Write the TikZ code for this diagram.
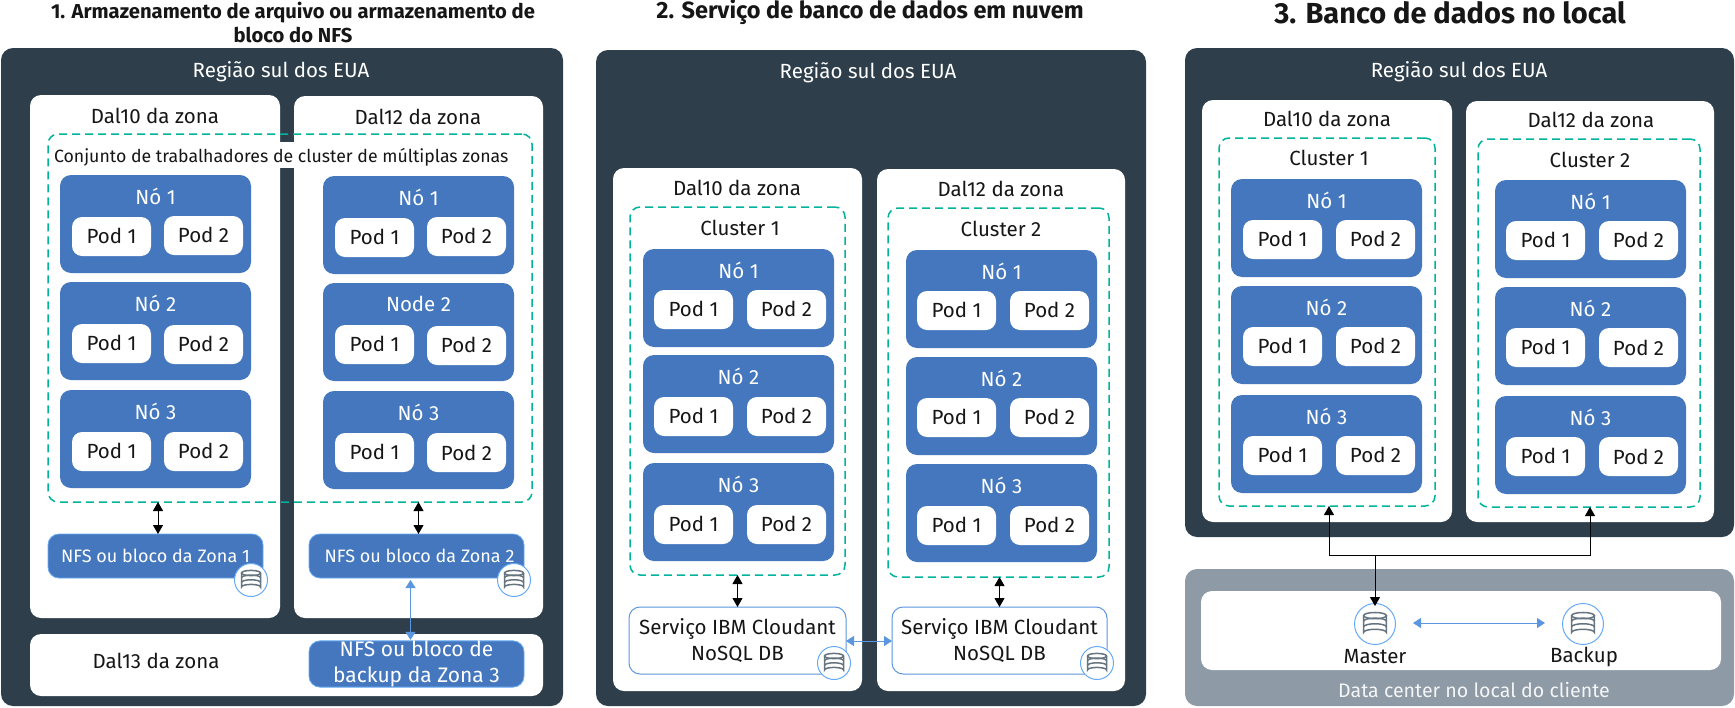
\documentclass[tikz,border=0pt]{standalone}
\usepackage{fontspec}
\setmainfont{Fira Sans}
\usetikzlibrary{arrows.meta}
\definecolor{panelc}{HTML}{2E3F4B}
\definecolor{groundc}{HTML}{8E9AA5}
\definecolor{nodec}{HTML}{4477BD}
\definecolor{tealc}{HTML}{00B39C}
\definecolor{linkc}{HTML}{5B96E0}
\definecolor{ringc}{HTML}{66AAF5}
\definecolor{iconc}{HTML}{66747F}
\definecolor{inkc}{HTML}{161616}
\tikzset{
  basebox/.style={rectangle,inner sep=0pt,outer sep=0pt,align=center,font=\fontsize{20.5}{26}\selectfont},
  panelbox/.style={basebox,fill=panelc,rounded corners=12pt},
  groundbox/.style={basebox,fill=groundc,rounded corners=12pt},
  zonebox/.style={basebox,fill=white,rounded corners=11pt},
  workerbox/.style={basebox,fill=nodec,rounded corners=11pt},
  podbox/.style={basebox,fill=white,rounded corners=10pt,text=inkc},
  storebox/.style={basebox,fill=nodec,draw=ringc,line width=.8pt,rounded corners=11pt,text=white,font=\fontsize{18}{26}\selectfont},
  servicebox/.style={basebox,fill=white,draw=linkc,line width=1pt,rounded corners=11pt,text=inkc},
  dashbox/.style={basebox,draw=tealc,line width=1.5pt,dash pattern=on 8pt off 5pt,rounded corners=10pt},
  onpanel/.style={basebox,text=white},
  onpale/.style={basebox,text=inkc},
  onground/.style={basebox,text=white!90!groundc,font=\fontsize{19.6}{24}\selectfont},
  titletext/.style={basebox,text=inkc,font=\fontsize{20.2}{24}\selectfont\bfseries},
  ringnode/.style={circle,fill=white,draw=ringc,line width=1pt,minimum size=33pt,inner sep=0pt},
  bigring/.style={ringnode,minimum size=41pt},
  duplex/.style={{Triangle[length=9pt,width=10pt]}-{Triangle[length=9pt,width=10pt]},line width=1pt,draw=black},
  oneway/.style={-{Triangle[length=9pt,width=10pt]},line width=1pt,draw=black},
  blueway/.style={{Triangle[length=8pt,width=10pt,color=linkc]}-{Triangle[length=8pt,width=10pt,color=linkc]},line width=1pt,draw=linkc},
  dbicon/.pic={
    \draw[iconc,line width=1.5pt,fill=none] (0,-7) ellipse (9.5 and 2.6);
    \draw[iconc,line width=1.5pt] (-9.5,-7) -- (-9.5,7) arc[start angle=180,end angle=360,x radius=9.5,y radius=2.6] -- (9.5,-7);
    \draw[iconc,line width=1.5pt] (-9.5,-2.3) arc[start angle=180,end angle=360,x radius=9.5,y radius=2.6];
    \draw[iconc,line width=1.5pt] (-9.5,2.4) arc[start angle=180,end angle=360,x radius=9.5,y radius=2.6];
  }
}
% style, name, x1, y1, x2, y2, text
\newcommand\bx[7]{\node[#1,minimum width={(#5-#3)*1pt},minimum height={(#6-#4)*1pt}] (#2) at ({(#3+#5)/2},{(#4+#6)/2}) {#7};}
% name, x1, y1, label, p1x, p1y, p2x, p2y, text shift of pod 2
\newcommand\wk[9]{%
  \bx{workerbox}{#1}{#2}{#3}{#2+191}{#3+98}{}
  \node[onpanel] (#1-l) at ({#2+95.5},{#3+21}) {#4};
  \bx{podbox}{#1-a}{#5}{#6}{#5+79}{#6+39}{\raisebox{1pt}{Pod 1}}
  \bx{podbox}{#1-b}{#7}{#8}{#7+79}{#8+39}{\raisebox{\dimexpr#9pt+1pt\relax}{Pod 2}}
}
\begin{document}
\begin{tikzpicture}[x=1pt,y=-1pt]
\useasboundingbox (0,0) rectangle (1735,707);
% titles
\node[titletext] (t1) at (293,22) {1. Armazenamento de arquivo ou armazenamento de\\bloco do NFS};
\node[titletext,font=\fontsize{23.5}{26}\selectfont\bfseries] (t2) at (870,12) {2. Serviço de banco de dados em nuvem};
\node[titletext,font=\fontsize{29}{30}\selectfont\bfseries] (t3) at (1450,13) {3. Banco de dados no local};
% ---------- panel 1
\bx{panelbox}{p1}{1}{48}{563}{706}{}
\node[onpanel] (p1l) at (281,72) {Região sul dos EUA};
\bx{zonebox}{z1a}{30}{95}{280}{618}{}
\bx{zonebox}{z1b}{294}{96}{543}{618}{}
\bx{zonebox}{z1c}{30}{634}{543}{696}{}
\node[onpale] (z1al) at (155,116) {Dal10 da zona};
\node[onpale] (z1bl) at (418,117) {Dal12 da zona};
\node[onpale] (z1cl) at (156,661) {Dal13 da zona};
\bx{basebox,fill=white}{band}{54}{142}{532}{168}{}
\bx{dashbox}{d1}{48}{134}{532}{502}{}
\node[onpale,anchor=west,font=\fontsize{17.7}{22}\selectfont] (d1l) at (54,157) {Conjunto de trabalhadores de cluster de múltiplas zonas};
\wk{a1}{60}{175}{Nó 1}{72}{217}{164}{216}{0}
\wk{a2}{60}{282}{Nó 2}{72}{324}{164}{325}{0}
\wk{a3}{60}{390}{Nó 3}{72}{432}{164}{432}{0}
\wk{b1}{323}{176}{Nó 1}{335}{218}{427}{217}{0}
\wk{b2}{323}{283}{Node 2}{335}{325}{427}{326}{0}
\wk{b3}{323}{391}{Nó 3}{335}{433}{427}{433}{-2}
\bx{storebox}{s1}{48}{534}{263}{578}{NFS ou bloco da Zona 1}
\bx{storebox}{s2}{309}{534}{524}{578}{\hspace*{6pt}NFS ou bloco da Zona 2}
\bx{storebox,font=\fontsize{21}{26}\selectfont}{s3}{309}{642}{524}{686}{NFS ou bloco de\\backup da Zona 3}
\node[ringnode] (r1) at (251,580) {}; \pic at (r1) {dbicon};
\node[ringnode] (r2) at (514,580) {}; \pic at (r2) {dbicon};
\draw[duplex] ([xshift=2.5pt]s1.north) -- ([xshift=2.5pt]s1.north |- d1.south);
\draw[duplex] ([xshift=2pt]s2.north) -- ([xshift=2pt]s2.north |- d1.south);
\draw[blueway,shorten >=1pt,shorten <=2pt] ([xshift=-6pt]s2.south) -- ([xshift=-6pt]s3.north);
% ---------- panel 2
\bx{panelbox}{p2}{596}{50}{1146}{706}{}
\node[onpanel] (p2l) at (868,73) {Região sul dos EUA};
\bx{zonebox}{z2a}{613}{168}{862}{691}{}
\bx{zonebox}{z2b}{877}{169}{1125}{691}{}
\node[onpale] (z2al) at (737,188) {Dal10 da zona};
\node[onpale] (z2bl) at (1001,189) {Dal12 da zona};
\bx{dashbox}{d2a}{630}{207}{845}{575}{}
\bx{dashbox}{d2b}{888}{208}{1109}{577}{}
\node[onpale] (d2al) at (740,228) {Cluster 1};
\node[onpale] (d2bl) at (1001,229) {Cluster 2};
\wk{c1}{643}{249}{Nó 1}{654}{290}{747}{290}{0}
\wk{c2}{643}{355}{Nó 2}{654}{397}{747}{397}{0}
\wk{c3}{643}{463}{Nó 3}{654}{505}{747}{505}{0}
\wk{e1}{906}{250}{Nó 1}{917}{291}{1010}{291}{0}
\wk{e2}{906}{357}{Nó 2}{917}{398}{1010}{398}{0}
\wk{e3}{906}{464}{Nó 3}{917}{506}{1010}{506}{0}
\bx{servicebox}{v1}{629}{607}{846}{674}{Serviço IBM Cloudant\\NoSQL DB}
\bx{servicebox}{v2}{892}{607}{1107}{674}{Serviço IBM Cloudant\\NoSQL DB}
\node[ringnode] (r3) at (834,663) {}; \pic at (r3) {dbicon};
\node[ringnode] (r4) at (1097,663) {}; \pic at (r4) {dbicon};
\draw[duplex] (v1.north) -- (v1.north |- d2a.south);
\draw[duplex] (v2.north) -- (v2.north |- d2b.south);
\draw[blueway] ([yshift=-.5pt]v1.east) -- ([yshift=-.5pt]v2.west);
% ---------- panel 3
\bx{panelbox}{p3}{1185}{48}{1734}{537}{}
\node[onpanel] (p3l) at (1459,72) {Região sul dos EUA};
\bx{zonebox}{z3a}{1202}{100}{1452}{522}{}
\bx{zonebox}{z3b}{1466}{101}{1714}{522}{}
\node[onpale] (z3al) at (1327,119) {Dal10 da zona};
\node[onpale] (z3bl) at (1591,120) {Dal12 da zona};
\bx{dashbox}{d3a}{1219}{138}{1435}{506}{}
\bx{dashbox}{d3b}{1478}{139}{1700}{507}{}
\node[onpale] (d3al) at (1329,158) {Cluster 1};
\node[onpale] (d3bl) at (1590,160) {Cluster 2};
\wk{f1}{1231}{179}{Nó 1}{1243}{220}{1336}{220}{0}
\wk{f2}{1231}{286}{Nó 2}{1243}{327}{1336}{327}{0}
\wk{f3}{1231}{395}{Nó 3}{1243}{436}{1336}{436}{0}
\wk{g1}{1495}{180}{Nó 1}{1506}{221}{1599}{221}{0}
\wk{g2}{1495}{287}{Nó 2}{1506}{328}{1599}{328}{-3}
\wk{g3}{1495}{396}{Nó 3}{1506}{437}{1599}{437}{-3}
\bx{groundbox}{h}{1185}{569}{1734}{706}{}
\bx{zonebox}{hi}{1201}{591}{1721}{670}{}
\node[onground] (hl) at (1474,690) {Data center no local do cliente};
\node[bigring] (m) at (1375,624) {}; \pic[scale=1.2] at (m) {dbicon};
\node[bigring] (k) at (1583,624) {}; \pic[scale=1.2] at (k) {dbicon};
\node[onpale] (ml) at (1375,657) {Master};
\node[onpale] (kl) at (1584,657) {Backup};
\coordinate (junc) at (1375,555);
\draw[oneway] (junc) -- ([yshift=-3pt]m.north);
\draw[oneway] (junc) -- (1329,555) -- (1329,506);
\draw[oneway] (junc) -- (1590,555) -- (1590,507);
\draw[blueway] ([xshift=17pt,yshift=1pt]m.east) -- ([xshift=-17pt,yshift=1pt]k.west);
\end{tikzpicture}
\end{document}
